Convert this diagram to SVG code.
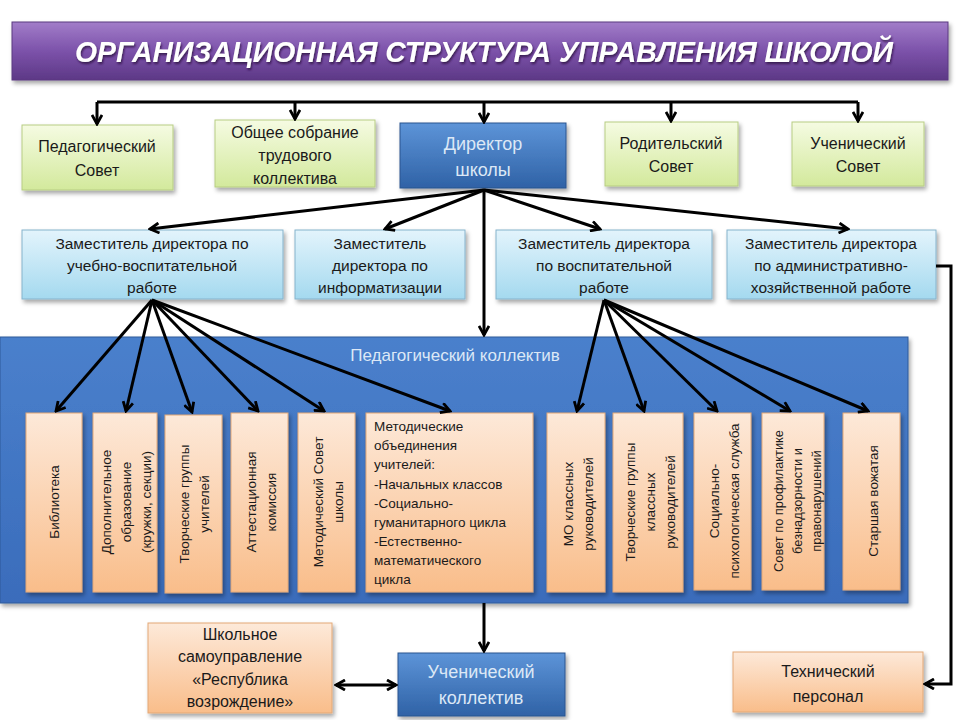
<svg xmlns="http://www.w3.org/2000/svg" width="960" height="720" viewBox="0 0 960 720">
<defs>
<linearGradient id="gTitle" x1="0" y1="0" x2="0" y2="1"><stop offset="0" stop-color="#a27dc9"/><stop offset="0.5" stop-color="#7c52aa"/><stop offset="1" stop-color="#5d3886"/></linearGradient>
<linearGradient id="gGreen" x1="0" y1="0" x2="0" y2="1"><stop offset="0" stop-color="#f5fbe2"/><stop offset="1" stop-color="#d3e99c"/></linearGradient>
<linearGradient id="gBlue" x1="0" y1="0" x2="0" y2="1"><stop offset="0" stop-color="#5d94d8"/><stop offset="1" stop-color="#2f62a6"/></linearGradient>
<linearGradient id="gLight" x1="0" y1="0" x2="0" y2="1"><stop offset="0" stop-color="#e3f4fc"/><stop offset="1" stop-color="#a4d9ef"/></linearGradient>
<linearGradient id="gPeach" x1="0" y1="0" x2="0" y2="1"><stop offset="0" stop-color="#fde9d9"/><stop offset="1" stop-color="#f9bd8a"/></linearGradient>
<linearGradient id="gPanel" x1="0" y1="0" x2="0" y2="1"><stop offset="0" stop-color="#4a80cc"/><stop offset="1" stop-color="#3a6cbb"/></linearGradient>
<filter id="sh" x="-10%" y="-10%" width="130%" height="130%"><feDropShadow dx="2" dy="3" stdDeviation="2" flood-color="#000" flood-opacity="0.35"/></filter>
<filter id="tsh" x="-5%" y="-20%" width="110%" height="150%"><feDropShadow dx="1" dy="2" stdDeviation="1" flood-color="#2a1040" flood-opacity="0.8"/></filter>
<marker id="ah" viewBox="0 0 12 12" refX="10" refY="6" markerWidth="12" markerHeight="12" markerUnits="userSpaceOnUse" orient="auto-start-reverse">
<path d="M1,1 L10,6 L1,11" fill="none" stroke="#000" stroke-width="2.8" stroke-linejoin="miter"/>
</marker>
</defs>
<style>
.t{font-family:"Liberation Sans",Arial,sans-serif;fill:#1a1a1a;text-anchor:middle}
.top{font-size:16px}
.dep{font-size:15.5px}
.v{font-size:13.5px}
.vs{font-size:12.8px}
.w{fill:#dce8f6}
.ln{fill:none;stroke:#000;stroke-width:3}
.green{fill:url(#gGreen);stroke:#b7cd83;stroke-width:1;filter:url(#sh)}
.blue{fill:url(#gBlue);stroke:#2a558f;stroke-width:1;filter:url(#sh)}
.light{fill:url(#gLight);stroke:#86b3cc;stroke-width:1;filter:url(#sh)}
.peach{fill:url(#gPeach);stroke:#e3a877;stroke-width:1;filter:url(#sh)}
</style>
<rect width="960" height="720" fill="#fff"/>

<g id="title">
<rect x="12" y="22" width="936" height="58" fill="url(#gTitle)" stroke="#5a3a80" filter="url(#sh)"/>
<text x="484" y="62" font-family="Liberation Sans,Arial,sans-serif" font-weight="bold" font-style="italic" font-size="30" fill="#fff" text-anchor="middle" textLength="818" lengthAdjust="spacingAndGlyphs" filter="url(#tsh)">ОРГАНИЗАЦИОННАЯ СТРУКТУРА УПРАВЛЕНИЯ ШКОЛОЙ</text>
</g>

<g id="panel">
<rect x="0" y="337" width="908" height="266" fill="url(#gPanel)" stroke="#2f5a9a" filter="url(#sh)"/>
<text class="t w" x="455" y="361" font-size="17">Педагогический  коллектив</text>
</g>

<g id="ped-sovet"><rect class="green" x="22" y="125" width="151" height="65"/>
<text class="t top" x="97" y="152">Педагогический</text><text class="t top" x="97" y="176">Совет</text></g>
<g id="obshchee"><rect class="green" x="215" y="120" width="160" height="67"/>
<text class="t top" x="295" y="138">Общее собрание</text><text class="t top" x="295" y="161">трудового</text><text class="t top" x="295" y="184">коллектива</text></g>
<g id="director"><rect class="blue" x="400" y="123" width="166" height="65"/>
<text class="t w" font-size="18" x="483" y="150">Директор</text><text class="t w" font-size="18" x="483" y="176">школы</text></g>
<g id="rod-sovet"><rect class="green" x="605" y="122" width="133" height="64"/>
<text class="t top" x="671" y="149">Родительский</text><text class="t top" x="671" y="172">Совет</text></g>
<g id="uch-sovet"><rect class="green" x="792" y="122" width="132" height="64"/>
<text class="t top" x="858" y="149">Ученический</text><text class="t top" x="858" y="172">Совет</text></g>

<g id="dep-uvr"><rect class="light" x="22" y="230" width="261" height="69"/>
<text class="t dep" x="152" y="249">Заместитель директора по</text><text class="t dep" x="152" y="271">учебно-воспитательной</text><text class="t dep" x="152" y="293">работе</text></g>
<g id="dep-info"><rect class="light" x="295" y="230" width="170" height="69"/>
<text class="t dep" x="380" y="249">Заместитель</text><text class="t dep" x="380" y="271">директора по</text><text class="t dep" x="380" y="293">информатизации</text></g>
<g id="dep-vr"><rect class="light" x="496" y="230" width="216" height="69"/>
<text class="t dep" x="604" y="249">Заместитель директора</text><text class="t dep" x="604" y="271">по воспитательной</text><text class="t dep" x="604" y="293">работе</text></g>
<g id="dep-ahr"><rect class="light" x="727" y="230" width="209" height="69"/>
<text class="t dep" x="831" y="249">Заместитель директора</text><text class="t dep" x="831" y="271">по административно-</text><text class="t dep" x="831" y="293">хозяйственной работе</text></g>

<g id="biblioteka"><rect class="peach" x="26" y="413" width="56" height="179"/>
<g transform="translate(54,502) rotate(-90)"><text class="t v" x="0" y="5">Библиотека</text></g></g>
<g id="dop-obr"><rect class="peach" x="93" y="413" width="64" height="179"/>
<g transform="translate(126,502) rotate(-90)"><text class="t v" x="0" y="-15">Дополнительное</text><text class="t v" x="0" y="5">образование</text><text class="t v" x="0" y="25">(кружки, секции)</text></g></g>
<g id="tvorch-uch"><rect class="peach" x="165" y="415" width="57" height="178"/>
<g transform="translate(194,504) rotate(-90)"><text class="t v" x="0" y="-5">Творческие группы</text><text class="t v" x="0" y="15">учителей</text></g></g>
<g id="attest"><rect class="peach" x="231" y="413" width="57" height="179"/>
<g transform="translate(261,502) rotate(-90)"><text class="t v" x="0" y="-5">Аттестационная</text><text class="t v" x="0" y="15">комиссия</text></g></g>
<g id="metod-sovet"><rect class="peach" x="298" y="413" width="57" height="179"/>
<g transform="translate(328,502) rotate(-90)"><text class="t v" x="0" y="-5">Методический Совет</text><text class="t v" x="0" y="15">школы</text></g></g>
<g id="metod-obed"><rect class="peach" x="366" y="413" width="167" height="179"/>
<g font-family="Liberation Sans,Arial,sans-serif" font-size="13.5" fill="#1a1a1a">
<text x="374" y="431">Методические</text><text x="374" y="450">объединения</text><text x="374" y="469">учителей:</text><text x="374" y="489">-Начальных классов</text><text x="374" y="508">-Социально-</text><text x="374" y="527">гуманитарного цикла</text><text x="374" y="546">-Естественно-</text><text x="374" y="565">математического</text><text x="374" y="584">цикла</text></g></g>
<g id="mo-kl"><rect class="peach" x="547" y="413" width="58" height="179"/>
<g transform="translate(578,504) rotate(-90)"><text class="t v" x="0" y="-5">МО классных</text><text class="t v" x="0" y="15">руководителей</text></g></g>
<g id="tvorch-kl"><rect class="peach" x="613" y="413" width="70" height="179"/>
<g transform="translate(650,502) rotate(-90)"><text class="t v" x="0" y="-15">Творческие группы</text><text class="t v" x="0" y="5">классных</text><text class="t v" x="0" y="25">руководителей</text></g></g>
<g id="soc-psych"><rect class="peach" x="694" y="413" width="57" height="177"/>
<g transform="translate(724,501) rotate(-90)"><text class="t v" x="0" y="-5">Социально-</text><text class="t v" x="0" y="15">психологическая служба</text></g></g>
<g id="sovet-prof"><rect class="peach" x="762" y="413" width="62" height="177"/>
<g transform="translate(797,501) rotate(-90)"><text class="t vs" x="0" y="-14">Совет по профилактике</text><text class="t vs" x="0" y="5">безнадзорности и</text><text class="t vs" x="0" y="24">правонарушений</text></g></g>
<g id="vozhataya"><rect class="peach" x="843" y="413" width="57" height="177"/>
<g transform="translate(873,501) rotate(-90)"><text class="t v" x="0" y="5">Старшая вожатая</text></g></g>

<g id="samoupr"><rect class="peach" x="148" y="623" width="184" height="90"/>
<text class="t top" x="240" y="640">Школьное</text><text class="t top" x="240" y="662">самоуправление</text><text class="t top" x="240" y="685">«Республика</text><text class="t top" x="240" y="707">возрождение»</text></g>
<g id="uch-koll"><rect class="blue" x="398" y="653" width="167" height="63"/>
<text class="t w" font-size="18" x="481" y="678">Ученический</text><text class="t w" font-size="18" x="481" y="704">коллектив</text></g>
<g id="tech"><rect class="peach" x="733" y="652" width="190" height="60"/>
<text class="t top" x="828" y="677">Технический</text><text class="t top" x="828" y="702">персонал</text></g>

<g id="connectors">
<path class="ln" d="M97,102 H858"/>
<path class="ln" d="M97,102 V124" marker-end="url(#ah)"/>
<path class="ln" d="M295,102 V119" marker-end="url(#ah)"/>
<path class="ln" d="M484,102 V122" marker-end="url(#ah)"/>
<path class="ln" d="M671,102 V121" marker-end="url(#ah)"/>
<path class="ln" d="M858,102 V121" marker-end="url(#ah)"/>
<path class="ln" d="M484,190 L150,229" marker-end="url(#ah)"/>
<path class="ln" d="M484,190 L385,229" marker-end="url(#ah)"/>
<path class="ln" d="M484,190 L600,229" marker-end="url(#ah)"/>
<path class="ln" d="M484,190 L848,229" marker-end="url(#ah)"/>
<path class="ln" d="M484,190 V335" marker-end="url(#ah)"/>
<path class="ln" d="M152,300 L56,411" marker-end="url(#ah)"/>
<path class="ln" d="M152,300 L126,411" marker-end="url(#ah)"/>
<path class="ln" d="M152,300 L192,412" marker-end="url(#ah)"/>
<path class="ln" d="M152,300 L258,411" marker-end="url(#ah)"/>
<path class="ln" d="M152,300 L324,411" marker-end="url(#ah)"/>
<path class="ln" d="M152,300 L450,411" marker-end="url(#ah)"/>
<path class="ln" d="M604,300 L577,411" marker-end="url(#ah)"/>
<path class="ln" d="M604,300 L644,411" marker-end="url(#ah)"/>
<path class="ln" d="M604,300 L717,411" marker-end="url(#ah)"/>
<path class="ln" d="M604,300 L790,411" marker-end="url(#ah)"/>
<path class="ln" d="M604,300 L868,411" marker-end="url(#ah)"/>
<path class="ln" d="M484,603 V651" stroke-width="5" marker-end="url(#ah)"/>
<path class="ln" d="M336,685 H396" marker-start="url(#ah)" marker-end="url(#ah)"/>
<path class="ln" d="M936,266 H951 V684 H925" marker-end="url(#ah)"/>
</g>
</svg>
